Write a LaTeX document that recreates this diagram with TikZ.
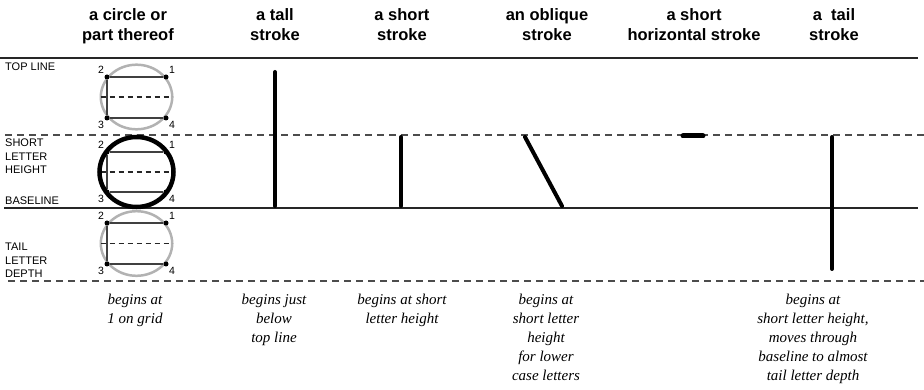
\documentclass[tikz,border=0pt]{standalone}
\usepackage{fontspec}
\setmainfont{Liberation Serif}
\newfontfamily\headfont{Liberation Sans}
\usetikzlibrary{positioning}

\begin{document}
\begin{tikzpicture}[
            x=1pt, y=-1pt,
            head/.style = {font=\headfont\bfseries\fontsize{16.5}{19.5}\selectfont, align=center, anchor=base, inner sep=0pt},
            side/.style = {font=\headfont\fontsize{11}{13.6}\selectfont, align=left, anchor=base west, inner sep=0pt},
            note/.style = {font=\itshape\fontsize{15}{19.2}\selectfont, align=center, anchor=base, inner sep=0pt},
            guide/.style = {line width=1.3pt, black!85},
            dguide/.style = {line width=1.2pt, black!70, dash pattern=on 7pt off 5pt},
            ring/.style = {draw=black!30, line width=2.5pt},
            bring/.style = {draw=black, line width=4.5pt},
            grid/.style = {draw=black!75, line width=1.1pt},
            middash/.style = {draw=black!85, line width=1.1pt, dash pattern=on 5pt off 4pt},
            dot/.style = {circle, fill=black, inner sep=0pt, minimum size=5pt},
            num/.style = {font=\headfont\fontsize{10.5}{10.5}\selectfont, inner sep=1pt},
            pen/.style = {line width=4pt, line cap=round}
        ]
\useasboundingbox (0,0) rectangle (924,390);

% column heads (base = last line)
\node[head] (h1) at (128,40.5) {a circle or\\part thereof};
\node[head] (h2) at (275,40.5) {a tall\\stroke};
\node[head] (h3) at (402,40.5) {a short\\stroke};
\node[head] (h4) at (547,40.5) {an oblique\\stroke};
\node[head] (h5) at (694,40.5) {a short\\horizontal stroke};
\node[head] (h6) at (834,40.5) {a\ \ tail\\stroke};

% guide lines
\draw[guide] (0,58) -- (918,58);
\draw[dguide] (5,135) -- (924,135);
\draw[guide] (4,208) -- (918,208);
\draw[dguide] (8,281) -- (924,281);

% line names
\node[side] (s1) at (5,71) {TOP LINE};
\node[side] (s2) at (5,174) {SHORT\\LETTER\\HEIGHT};
\node[side] (s3) at (5,205) {BASELINE};
\node[side] (s4) at (5,278) {TAIL\\LETTER\\DEPTH};

% upper grid
\coordinate (c1) at (136.5,97);
\draw[ring] (c1) ellipse [x radius=35.7pt, y radius=32.3pt];
\draw[middash] ([xshift=-36pt]c1) -- ([xshift=36pt]c1);
\node[dot, label={[num]above right:1}] (a1) at (166,77) {};
\node[dot, label={[num]above left:2}] (a2) at (107,77) {};
\node[dot, label={[num]below left:3}] (a3) at (107,118) {};
\node[dot, label={[num]below right:4}] (a4) at (166,118) {};
\draw[grid] (a1) -- (a2) -- (a3) -- (a4) -- cycle;

% middle grid
\coordinate (c2) at (136.5,172);
\node[dot, label={[num]above right:1}] (b1) at (166,152) {};
\node[dot, label={[num]above left:2}] (b2) at (107,152) {};
\node[dot, label={[num]below left:3}] (b3) at (107,192) {};
\node[dot, label={[num]below right:4}] (b4) at (166,192) {};
\draw[grid] (b1) -- (b2) -- (b3) -- (b4) -- cycle;
\draw[middash] ([xshift=-36pt]c2) -- ([xshift=36pt]c2);
\draw[bring] (c2) ellipse [x radius=37pt, y radius=35pt];

% lower grid
\coordinate (c3) at (136.5,243.5);
\draw[ring] (c3) ellipse [x radius=35.7pt, y radius=32.3pt];
\draw[middash] ([xshift=-36pt]c3) -- ([xshift=36pt]c3);
\node[dot, label={[num]above right:1}] (d1) at (166,223) {};
\node[dot, label={[num]above left:2}] (d2) at (107,223) {};
\node[dot, label={[num]below left:3}] (d3) at (107,264) {};
\node[dot, label={[num]below right:4}] (d4) at (166,264) {};
\draw[grid] (d1) -- (d2) -- (d3) -- (d4) -- cycle;

% strokes
\draw[pen] (275,72) -- (275,206);
\draw[pen] (401,137) -- (401,206);
\draw[pen] (525,137) -- (562,206);
\draw[pen, line width=5pt] (683,136) -- (703,136);
\draw[pen] (832,137) -- (832,269);

% notes (base = last line)
\node[note] (n1) at (135,323.2) {begins at\\1 on grid};
\node[note] (n2) at (274,342.4) {begins just\\below\\top line};
\node[note] (n3) at (402,323.2) {begins at short\\letter height};
\node[note] (n4) at (546,380.8) {begins at\\short letter\\height\\for lower\\case letters};
\node[note] (n5) at (813,380.8) {begins at\\short letter height,\\moves through\\baseline to almost\\tail letter depth};
\end{tikzpicture}
\end{document}
